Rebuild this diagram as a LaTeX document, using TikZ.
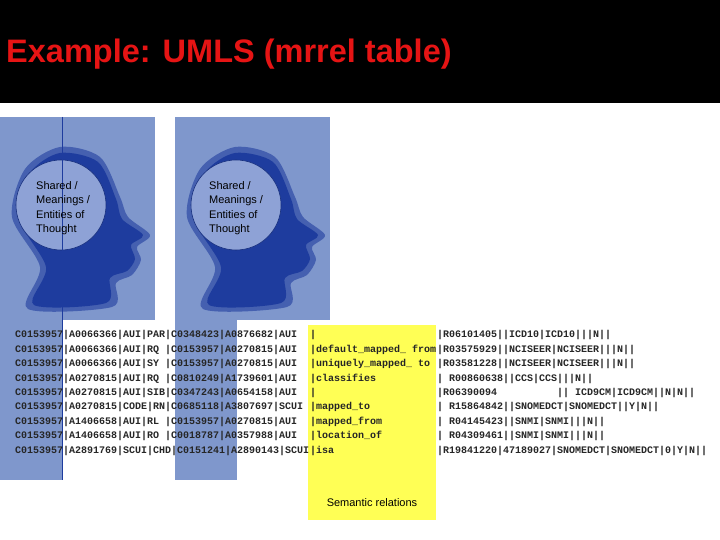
\documentclass[tikz,border=0pt]{standalone}
\usepackage{fontspec}
\setmainfont{Liberation Sans}
\newfontfamily\monof{Liberation Mono}
\begin{document}
\begin{tikzpicture}[x=1pt,y=1pt,
  mono/.style={anchor=base west,inner sep=0,font=\monof\fontsize{10}{10}\selectfont\bfseries,text=black!85},
  headtxt/.style={anchor=north west,inner sep=0,align=left,font=\fontsize{11}{14.5}\selectfont}]
\definecolor{panel}{HTML}{7F97CC}
\definecolor{headc}{HTML}{1E3C9E}
\definecolor{circ}{HTML}{8EA2D6}
\definecolor{hl}{HTML}{FFFF55}
\useasboundingbox (0,0) rectangle (720,540);
\fill[white] (0,0) rectangle (720,540);
\fill[black] (0,540) rectangle (720,437);
\node[anchor=west,inner sep=0,text={rgb,255:red,230;green,20;blue,20},font=\bfseries\fontsize{32.5}{36}\selectfont] (title) at (6,486) {Example: UMLS (mrrel table)};
% panels
\foreach \x in {0,175}{
  \fill[panel] (\x,423) rectangle (\x+155,220);
  \fill[panel] (\x,220) rectangle (\x+62,60);
  \begin{scope}[shift={(\x,423)},yscale=-1]
    \fill[headc!60!panel] plot[smooth cycle] coordinates {(12,100) (25,52) (60,30) (100,40) (120,80) (128,100) (150,118) (137,130) (141,143) (132,158) (116,166) (112,190) (28,192) (40,150)};
    \fill[headc] plot[smooth cycle] coordinates {(18,100) (30,56) (60,36) (98,45) (116,82) (122,102) (143,118) (131,128) (135,142) (127,154) (110,161) (106,186) (34,188) (46,150)};
    \fill[circ] (61,88) circle (45);
    \draw[headc!80!black,line width=0.6] (61,88) circle (45);
  \end{scope}
}
\draw[headc,line width=0.6] (62,423) -- (62,60);
\node[headtxt] (t1) at (36,359) {Shared /\\Meanings /\\Entities of\\Thought};
\node[headtxt] (t2) at (209,359) {Shared /\\Meanings /\\Entities of\\Thought};
% yellow
\fill[hl] (308,215) rectangle (436,20);
\node[anchor=base,inner sep=0,font=\fontsize{11}{13}\selectfont] (sem) at (372,33) {Semantic relations};
% rows
\foreach \i/\a/\b/\c in {
 0/C0153957|A0066366|AUI|PAR|C0348423|A0876682|AUI/|/|R06101405||ICD10|ICD10|||N||,
 1/C0153957|A0066366|AUI|RQ |C0153957|A0270815|AUI/|default\_mapped\_ from/|R03575929||NCISEER|NCISEER|||N||,
 2/C0153957|A0066366|AUI|SY |C0153957|A0270815|AUI/|uniquely\_mapped\_ to/|R03581228||NCISEER|NCISEER|||N||,
 3/C0153957|A0270815|AUI|RQ |C0810249|A1739601|AUI/|classifies/| R00860638||CCS|CCS|||N||,
 4/C0153957|A0270815|AUI|SIB|C0347243|A0654158|AUI/|/|R06390094{\ \ \ \ \ \ \ \ \ \ }|| ICD9CM|ICD9CM||N|N||,
 5/C0153957|A0270815|CODE|RN|C0685118|A3807697|SCUI/|mapped\_to/| R15864842||SNOMEDCT|SNOMEDCT||Y|N||,
 6/C0153957|A1406658|AUI|RL |C0153957|A0270815|AUI/|mapped\_from/| R04145423||SNMI|SNMI|||N||,
 7/C0153957|A1406658|AUI|RO |C0018787|A0357988|AUI/|location\_of/| R04309461||SNMI|SNMI|||N||,
 8/C0153957|A2891769|SCUI|CHD|C0151241|A2890143|SCUI/|isa/|R19841220|47189027|SNOMEDCT|SNOMEDCT|0|Y|N||}{
  \pgfmathsetmacro{\yy}{202-14.4*\i}
  \node[mono] (l\i) at (15,\yy) {\a};
  \node[mono] (m\i) at (310,\yy) {\b};
  \node[mono] (r\i) at (437,\yy) {\c};
}
\end{tikzpicture}
\end{document}
